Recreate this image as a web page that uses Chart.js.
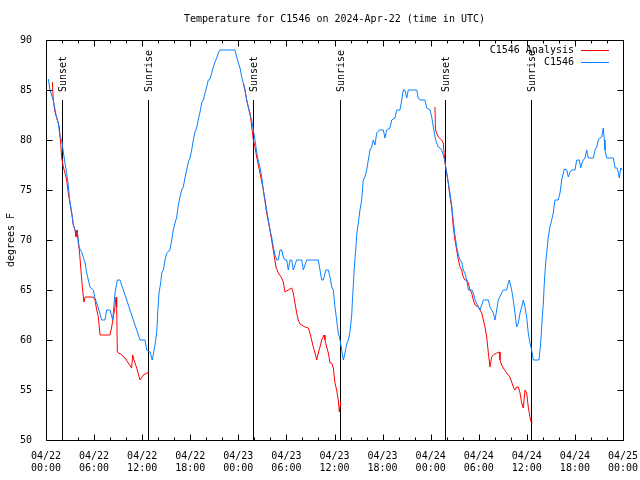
<!DOCTYPE html>
<html>
<head>
<meta charset="utf-8">
<script src="https://cdn.jsdelivr.net/npm/chart.js@4.4.1/dist/chart.umd.min.js"></script>
<style>
  html, body { margin: 0; padding: 0; background: #fff; }
  #wrap { width: 640px; height: 480px; }
</style>
</head>
<body>
<div id="wrap"><canvas id="c" width="640" height="480"></canvas></div>
<script>
// ---------- DATA ----------
const chartTitle = 'Temperature for C1546 on 2024-Apr-22 (time in UTC)';
const yAxisLabel = 'degrees F';
const seriesNames = ['C1546 Analysis', 'C1546'];

// x tick labels (every 6 hours from 04/22 00:00)
const tickDates = ['04/22','04/22','04/22','04/22','04/23','04/23','04/23','04/23','04/24','04/24','04/24','04/24','04/25'];
const tickTimes = ['00:00','06:00','12:00','18:00','00:00','06:00','12:00','18:00','00:00','06:00','12:00','18:00','00:00'];

// sunset / sunrise times (hours since 04/22 00:00 UTC)
const sunsetHours  = [1.96, 25.87, 49.85];
const sunriseHours = [12.75, 36.69, 60.52];

// Observed C1546 temperatures (hours since 04/22 00:00 UTC, degrees F)
const obsHours = [0.29,0.50,0.91,1.25,1.53,1.75,1.96,2.16,2.37,2.58,2.78,2.91,3.08,3.28,3.41,3.62,3.91,4.16,4.45,4.65,4.87,5.08,5.49,5.90,6.11,6.53,6.95,7.36,7.57,7.99,8.32,8.61,8.90,9.23,9.65,10.07,10.48,10.89,11.32,11.73,12.35,12.57,12.98,13.26,13.60,13.81,13.94,14.10,14.31,14.44,14.64,14.85,15.06,15.47,15.69,15.88,16.10,16.31,16.51,16.72,16.93,17.13,17.34,17.56,17.76,17.97,18.18,18.38,18.59,18.80,19.00,19.22,19.43,19.63,19.84,20.05,20.25,20.46,20.68,20.88,21.09,21.30,21.50,21.71,23.58,23.80,24.00,24.21,24.42,24.62,24.83,25.04,25.24,25.46,25.67,25.87,26.08,26.29,26.49,26.70,26.92,27.12,27.33,27.54,27.74,27.95,28.16,28.36,28.58,28.79,28.99,29.20,29.41,29.61,29.82,30.04,30.23,30.45,30.66,30.86,31.28,31.91,32.11,32.53,33.98,34.19,34.40,34.60,34.94,35.23,35.44,35.65,35.85,36.06,36.27,36.47,36.69,36.90,37.10,37.31,37.52,37.72,37.93,38.15,38.22,38.35,38.47,38.65,38.77,38.97,39.18,39.39,39.59,39.80,40.02,40.22,40.43,40.64,40.84,41.05,41.27,41.59,42.09,42.30,42.51,42.92,43.14,43.55,43.76,44.17,44.39,44.58,44.79,45.01,45.21,46.26,46.46,46.67,47.29,47.51,47.92,48.13,48.33,48.54,48.75,48.95,49.16,49.38,49.57,49.79,50.00,50.20,50.41,50.62,50.82,51.03,51.25,51.45,51.66,51.87,52.07,52.28,52.50,52.70,53.12,53.32,53.54,53.95,54.16,54.37,54.57,55.20,55.40,55.61,55.81,56.03,56.24,56.44,56.86,57.06,57.49,57.68,57.81,58.11,58.31,58.52,58.73,58.94,59.15,59.36,59.56,59.77,59.98,60.18,60.39,60.60,60.81,61.52,61.73,61.93,62.06,62.18,62.35,62.48,62.68,62.89,63.10,63.30,63.51,63.92,64.14,64.35,64.55,64.68,64.97,65.18,65.38,65.60,66.01,66.22,66.55,66.72,66.88,67.05,67.26,67.47,67.67,68.30,68.51,68.72,68.92,69.13,69.34,69.54,69.67,69.75,69.97,70.80,71.01,71.26,71.42,71.54,71.71,71.88];
const obsTemps = [86.1,85,84,82.5,81.7,80.3,80,78.8,77.7,76.7,75.5,74.3,73.3,72.3,71.5,71,70.7,69.2,68.8,68.3,67.7,66.7,65.3,65,64.2,63.2,62,62,63,63,62,64.7,66,66,65,64,63,62,61,60,60,59,58.8,58,59.5,60.7,62.7,64.7,65.7,66.7,67,68,68.7,69,70,71,71.7,72.3,73.5,74.3,75,75.3,76.2,77,77.8,78.2,79,80,80.8,81.2,82,82.8,83.7,84,84.7,85.3,86,86.1,86.7,87.3,87.8,88.2,88.7,89,89,88.3,87.7,87.2,86.3,85.7,85,84,83.3,82.5,82,81,80,78.8,77.9,77.3,76.3,75,74,73,72,71,70.3,69.3,68.5,68,68,69,69,68.3,68,68,67,68,68,67,68,68,67,68,68,67,66,66,67,67,66.3,65.3,65,63.3,62,60.7,60,59,58,58.7,59.6,60,60.8,62.5,63.7,65.5,67.3,69,70.5,71.7,73,74,76,76.3,77,78,79,79.3,80,79.5,80.7,81,81,80.2,81,81.2,82,82.2,83,83,84,85,85,84.2,85,85,84.2,84,84,83.2,83,82.3,81.3,80.3,79.7,79.3,79.2,79,78.5,77.8,76.7,75.7,74.7,73.5,72,70.5,69.3,68.5,68,67.8,67,66.7,66,65,65,64.7,64,63.3,63,63.5,64,64,63.3,63,62.7,62,63,64,64.7,65,65,65.7,66,65,64,62.7,61.3,61.7,62.7,63.3,64,63.3,62.3,60.7,59.7,59,58,58,59.7,62.3,63.7,65.7,67.7,68.7,70.3,71.3,72,72.7,74,74,74.7,76,76.7,77.1,77,76.3,76.8,77,77,78,78,77.2,77.7,78,78.2,79,78.2,78.2,79,79.3,80,80.2,80.3,81.2,80,79,78.2,78.2,77.2,77.2,76.7,76.2,77.2,77];

// C1546 Analysis (night-time segments; null separates segments)
const anaHours = [0.79,0.91,1.12,1.41,1.66,1.83,1.96,2.16,2.37,2.58,2.78,2.99,3.21,3.41,3.62,3.74,3.91,4.03,4.16,4.33,4.53,4.74,4.87,5.90,6.11,6.33,6.53,6.74,7.99,8.20,8.40,8.61,8.74,8.82,8.90,9.45,9.86,10.27,10.69,10.82,10.98,11.32,11.73,12.14,12.85,
  18,
  24.62,24.83,25.04,25.24,25.46,25.87,26.08,26.29,26.70,27.12,27.54,27.95,28.36,28.70,28.99,29.41,29.61,29.82,30.23,30.66,30.86,31.07,31.28,31.48,31.69,32.32,32.73,32.94,33.15,33.35,33.57,33.78,33.98,34.19,34.40,34.69,34.81,35.02,35.23,35.44,35.65,35.85,36.06,36.27,36.47,36.60,36.77,
  42,
  48.54,48.60,48.95,49.38,49.57,49.79,50.00,50.20,50.41,50.62,50.82,51.03,51.25,51.45,51.66,51.87,52.07,52.28,52.50,52.70,52.91,53.12,53.32,53.54,53.95,54.16,54.37,54.57,54.78,54.99,55.20,55.40,55.61,55.81,56.24,56.56,56.65,56.86,57.06,57.49,57.90,58.11,58.31,58.52,58.73,58.94,59.15,59.36,59.56,59.77,59.98,60.18,60.39,60.52,60.73];
const anaTemps = [85.8,84,82.8,82,81.3,79.7,78.2,77.3,76.7,76,74.7,73.7,72.7,71.5,71,70.3,71,69.7,69,67.3,65.3,63.8,64.3,64.3,64,63,62.3,60.5,60.5,61.3,62.3,63.3,64.3,63.3,58.8,58.5,58.2,57.7,57.2,58.5,58,57.2,56,56.5,56.8,
  null,
  85.7,85,84,83.3,82.7,80,79.3,78.3,76.7,75,72.7,71,69,67.3,66.7,66.2,65.8,64.8,65,65.2,64.7,63.7,62.7,62,61.6,61.3,61.2,60.7,60,59.3,58.7,58,58.7,59.3,60,60.5,60,59.3,58.7,57.7,57.7,57.2,55.7,55,54,52.8,53.8,
  null,
  83.3,81,80.3,80,79.7,77.7,76.7,75.7,74.3,73.3,71.3,70,69,68,67.3,67,66.3,66,66,65.7,65,64.7,64,63.5,63.3,63,62.7,62,61.3,60.3,58.7,57.3,58.3,58.5,58.7,58.8,58,57.5,57.2,56.7,56.3,55.8,55.3,55,55.3,55.3,54.7,53.7,53.2,55,54.7,53.3,52.3,51.8,51.8];

// ---------- STYLE ----------
const FONT = 'DejaVu Sans Mono';
const RED = '#ff0000';
const BLUE = '#0a80ff';

Chart.defaults.font.family = FONT;
Chart.defaults.font.size = 10;
Chart.defaults.color = '#000';

const toPoints = (xs, ys) => xs.map((x, i) => ({ x: x, y: ys[i] }));

const gnuplotDecor = {
  id: 'gnuplotDecor',
  beforeDatasetsDraw(chart) {
    const { ctx, chartArea: a, scales: { x } } = chart;
    ctx.save();
    ctx.strokeStyle = '#000';
    ctx.lineWidth = 1;
    ctx.fillStyle = '#000';
    ctx.font = '10px ' + FONT;
    const drawSun = (hours, label) => {
      hours.forEach(h => {
        const px = Math.round(x.getPixelForValue(h)) + 0.5;
        ctx.beginPath();
        ctx.moveTo(px, 100);
        ctx.lineTo(px, a.bottom);
        ctx.stroke();
        ctx.save();
        ctx.translate(px + 1, 92);
        ctx.rotate(-Math.PI / 2);
        ctx.textAlign = 'left';
        ctx.textBaseline = 'middle';
        ctx.fillText(label, 0, 0);
        ctx.restore();
      });
    };
    drawSun(sunsetHours, 'Sunset');
    drawSun(sunriseHours, 'Sunrise');
    ctx.restore();
  },
  afterDatasetsDraw(chart) {
    const { ctx, chartArea: a, scales: { x, y } } = chart;
    ctx.save();
    ctx.strokeStyle = '#000';
    ctx.lineWidth = 1;
    const L = Math.round(a.left) + 0.5, R = Math.round(a.right) + 0.5;
    const T = Math.round(a.top) + 0.5, B = Math.round(a.bottom) + 0.5;
    ctx.beginPath();
    for (let h = 0; h <= 72; h += 2) {
      const px = Math.round(x.getPixelForValue(h)) + 0.5;
      const len = (h % 6 === 0) ? 6 : 3;
      ctx.moveTo(px, B); ctx.lineTo(px, B - len);
      ctx.moveTo(px, T); ctx.lineTo(px, T + len);
    }
    for (let v = 50; v <= 90; v += 5) {
      const py = Math.round(y.getPixelForValue(v)) + 0.5;
      ctx.moveTo(L, py); ctx.lineTo(L + 6, py);
      ctx.moveTo(R, py); ctx.lineTo(R - 6, py);
    }
    ctx.stroke();
    ctx.strokeRect(L, T, R - L, B - T);

    // title
    ctx.fillStyle = '#000';
    ctx.font = '10px ' + FONT;
    ctx.textAlign = 'center';
    ctx.textBaseline = 'middle';
    ctx.fillText(chartTitle, (a.left + a.right) / 2, 19);

    // legend (inside, top right)
    const colors = [RED, BLUE];
    ctx.textAlign = 'right';
    seriesNames.forEach((name, i) => {
      const yy = 50 + i * 12;
      ctx.fillStyle = '#000';
      ctx.fillText(name, 574, yy);
      ctx.strokeStyle = colors[i];
      ctx.beginPath();
      ctx.moveTo(581, yy + 0.5);
      ctx.lineTo(609, yy + 0.5);
      ctx.stroke();
    });
    ctx.restore();
  }
};

new Chart(document.getElementById('c'), {
  type: 'line',
  data: {
    datasets: [
      {
        label: seriesNames[0],
        data: toPoints(anaHours, anaTemps),
        borderColor: RED,
        backgroundColor: RED,
        borderWidth: 1,
        pointRadius: 0,
        tension: 0,
        spanGaps: false,
        order: 2
      },
      {
        label: seriesNames[1],
        data: toPoints(obsHours, obsTemps),
        borderColor: BLUE,
        backgroundColor: BLUE,
        borderWidth: 1,
        pointRadius: 0,
        tension: 0,
        order: 1
      }
    ]
  },
  options: {
    responsive: false,
    animation: false,
    devicePixelRatio: 1,
    layout: { padding: { left: 0, right: 17, top: 40, bottom: 0 } },
    plugins: {
      legend: { display: false },
      title: { display: false },
      tooltip: { enabled: false }
    },
    scales: {
      x: {
        type: 'linear',
        min: 0,
        max: 72,
        afterFit: s => { s.height = 40; s.paddingLeft = 0; s.paddingRight = 0; },
        grid: { display: false },
        border: { display: false },
        ticks: {
          stepSize: 6,
          autoSkip: false,
          maxRotation: 0,
          padding: 2,
          color: '#000',
          font: { family: FONT, size: 10, lineHeight: 1.25 },
          callback: v => {
            const i = Math.round(v / 6);
            return [tickDates[i], tickTimes[i]];
          }
        }
      },
      y: {
        type: 'linear',
        min: 50,
        max: 90,
        afterFit: s => { s.width = 46; s.paddingTop = 0; s.paddingBottom = 0; },
        grid: { display: false },
        border: { display: false },
        ticks: {
          stepSize: 5,
          padding: 6,
          color: '#000',
          font: { family: FONT, size: 10 }
        },
        title: {
          display: true,
          text: yAxisLabel,
          color: '#000',
          font: { family: FONT, size: 10 },
          padding: { top: 5, bottom: 0 }
        }
      }
    }
  },
  plugins: [gnuplotDecor]
});
</script>
</body>
</html>
